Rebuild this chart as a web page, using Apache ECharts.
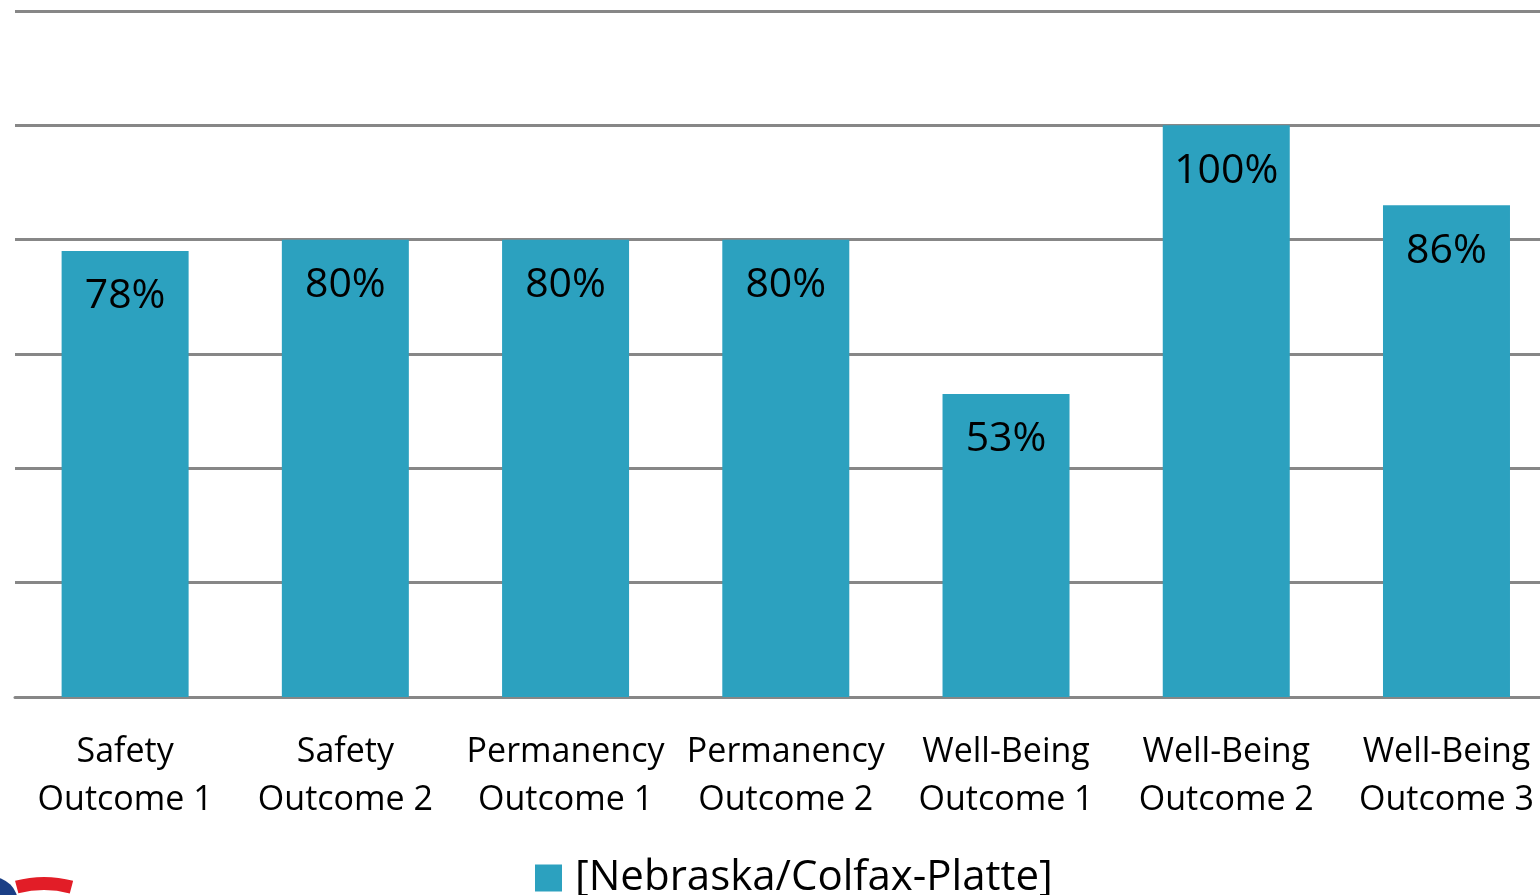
<!DOCTYPE html>
<html>
<head>
<meta charset="utf-8">
<script src="https://cdn.jsdelivr.net/npm/echarts@6/dist/echarts.min.js"></script>
<style>
html,body{margin:0;padding:0;background:#fff;}
#chart{width:1540px;height:895px;}
</style>
</head>
<body>
<div id="chart"></div>
<script>
var categories = ['Safety\nOutcome 1','Safety\nOutcome 2','Permanency\nOutcome 1','Permanency\nOutcome 2','Well-Being\nOutcome 1','Well-Being\nOutcome 2','Well-Being\nOutcome 3'];
var values = [78, 80, 80, 80, 53, 100, 86];
var seriesName = '[Nebraska/Colfax-Platte]';
var yTicks = [0, 20, 40, 60, 80, 100, 120];

var FONT = '"Open Sans", sans-serif';
var chart = echarts.init(document.getElementById('chart'));
chart.setOption({
  animation: false,
  backgroundColor: '#fff',
  grid: { left: 15, top: 11, bottom: 198, right: -16.6, containLabel: false, outerBoundsMode: 'none' },
  legend: {
    left: 530, top: 852,
    itemWidth: 27, itemHeight: 27, itemGap: 10,
    textStyle: { fontFamily: FONT, fontSize: 42, color: '#000', padding: [0, 0, 0, 8] },
    data: [{ name: seriesName, icon: 'rect' }]
  },
  xAxis: {
    type: 'category',
    data: categories,
    axisLine: { lineStyle: { color: '#878787', width: 3 } },
    axisTick: { show: false },
    axisLabel: { interval: 0, margin: 31, fontFamily: FONT, fontSize: 34, lineHeight: 48, color: '#000' }
  },
  yAxis: {
    type: 'value',
    min: yTicks[0], max: yTicks[yTicks.length - 1], interval: 20,
    axisLabel: { show: false },
    axisLine: { show: false },
    axisTick: { show: false },
    splitLine: { lineStyle: { color: '#878787', width: 3 } }
  },
  series: [{
    name: seriesName,
    type: 'bar',
    data: values,
    barWidth: 127,
    itemStyle: { color: '#2ca1bf' },
    label: {
      show: true, position: 'insideTop', distance: 25,
      formatter: '{c}%', fontFamily: FONT, fontSize: 41, color: '#000'
    }
  }],
  graphic: [
    { type: 'circle', shape: { cx: -8, cy: 903, r: 26 }, style: { fill: '#1b3f86' } },
    { type: 'arc', shape: { cx: 44, cy: 990, r: 106.5, startAngle: -1.83, endAngle: -1.31, clockwise: true },
      style: { stroke: '#e21d27', lineWidth: 13, fill: null } }
  ]
});
</script>
</body>
</html>
